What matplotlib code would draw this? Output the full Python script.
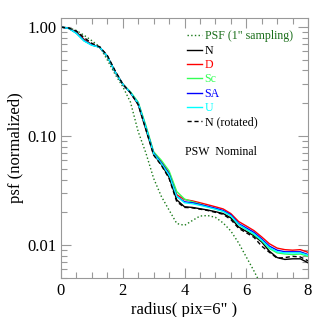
import numpy as np
import matplotlib
matplotlib.use("Agg")
import matplotlib.pyplot as plt
from matplotlib.ticker import FixedLocator, NullFormatter, LogLocator

plt.rcParams["font.family"] = ["Liberation Serif", "DejaVu Serif"]

# radius grid (pix = 6")
radius = np.arange(0, 8.01, 0.25)

psf_n = [1.0, 0.975, 0.90, 0.77, 0.69, 0.655, 0.54, 0.39, 0.30, 0.25, 0.195, 0.115, 0.068,
         0.055, 0.042, 0.026, 0.0225, 0.0222, 0.0216, 0.0210, 0.0203, 0.0195, 0.0178, 0.0147,
         0.0134, 0.0122, 0.0107, 0.0088, 0.0077, 0.0074, 0.0075, 0.0075, 0.0069]
psf_d = [1.0, 0.975, 0.89, 0.76, 0.69, 0.655, 0.54, 0.39, 0.30, 0.25, 0.20, 0.12, 0.070,
         0.058, 0.046, 0.029, 0.0262, 0.0255, 0.0245, 0.0235, 0.0225, 0.0215, 0.0195, 0.0165,
         0.0150, 0.0136, 0.0119, 0.0103, 0.0094, 0.0091, 0.0090, 0.0091, 0.0086]
psf_sc = [1.0, 0.975, 0.88, 0.75, 0.685, 0.655, 0.54, 0.39, 0.30, 0.255, 0.205, 0.125, 0.072,
          0.060, 0.048, 0.031, 0.0265, 0.0250, 0.0238, 0.0226, 0.0215, 0.0205, 0.0185, 0.0155,
          0.0139, 0.0125, 0.0110, 0.0093, 0.0085, 0.0083, 0.0082, 0.0083, 0.0079]
psf_sa = [1.0, 0.975, 0.88, 0.75, 0.685, 0.655, 0.54, 0.39, 0.30, 0.25, 0.20, 0.12, 0.070,
          0.057, 0.045, 0.028, 0.0250, 0.0245, 0.0236, 0.0227, 0.0218, 0.0208, 0.0190, 0.0158,
          0.0144, 0.0131, 0.0114, 0.0098, 0.0090, 0.0087, 0.0087, 0.0087, 0.0082]
psf_u = [1.0, 0.975, 0.875, 0.745, 0.68, 0.655, 0.54, 0.39, 0.30, 0.25, 0.20, 0.12, 0.069,
         0.056, 0.044, 0.028, 0.0245, 0.0240, 0.0232, 0.0223, 0.0214, 0.0204, 0.0186, 0.0155,
         0.0140, 0.0127, 0.0111, 0.0095, 0.0087, 0.0085, 0.0085, 0.0085, 0.0081]
psf_nrot = [1.0, 0.98, 0.92, 0.80, 0.71, 0.66, 0.55, 0.40, 0.30, 0.25, 0.195, 0.115, 0.067,
            0.054, 0.041, 0.025, 0.0222, 0.0220, 0.0214, 0.0208, 0.0200, 0.0192, 0.0172, 0.0143,
            0.0130, 0.0118, 0.0098, 0.0086, 0.0076, 0.0077, 0.0079, 0.0078, 0.0072]
# model PSF, 1" sampling
psf_model = [1.0, 0.985, 0.93, 0.84, 0.75, 0.66, 0.50, 0.37, 0.285, 0.205, 0.11, 0.07, 0.041,
             0.028, 0.021, 0.0158, 0.0152, 0.0168, 0.0185, 0.0187, 0.0180, 0.0160, 0.0135, 0.0105,
             0.0078, 0.0058, 0.0042, 0.0030, 0.0022, 0.0016, 0.0012, 0.0009, 0.0007]

fig = plt.figure(figsize=(3.27, 3.17), dpi=100)
ax = fig.add_axes([0.1865, 0.123, 0.7555, 0.82])

ax.semilogy(radius, psf_model, ":", color="#1a7a1a", lw=1.0, label="PSF (1\" sampling)")
ax.semilogy(radius, psf_n, "-", color="black", lw=1.0, label="N")
ax.semilogy(radius, psf_d, "-", color="red", lw=1.0, label="D")
ax.semilogy(radius, psf_sc, "-", color="#33ff55", lw=1.0, label="Sc")
ax.semilogy(radius, psf_sa, "-", color="blue", lw=1.0, label="SA")
ax.semilogy(radius, psf_u, "-", color="cyan", lw=1.0, label="U")
ax.semilogy(radius, psf_nrot, "--", color="black", lw=1.0, dashes=(3, 2), label="N (rotated)")

ax.set_xlim(0, 8)
ax.set_ylim(0.005, 1.21)
ax.set_xticks([0, 2, 4, 6, 8])
ax.xaxis.set_minor_locator(FixedLocator(np.arange(0, 8.01, 0.5)))
ax.set_yticks([0.01, 0.1, 1.0])
ax.set_yticklabels(["0.01", "0.10", "1.00"])
ax.yaxis.set_minor_locator(LogLocator(base=10, subs=np.arange(2, 10)))
ax.yaxis.set_minor_formatter(NullFormatter())
ax.tick_params(which="both", direction="in", top=True, right=True, color="#999999",
               labelsize=12)
ax.tick_params(which="major", length=7, width=0.8)
ax.tick_params(which="minor", length=4, width=0.8)
for s in ax.spines.values():
    s.set_color("#999999")

ax.set_xlabel("radius( pix=6\" )", fontsize=12, labelpad=2)
ax.set_ylabel("psf (normalized)", fontsize=12, labelpad=2)

leg = ax.legend(loc="upper left", bbox_to_anchor=(0.475, 0.985), frameon=False, fontsize=8.6,
                handlelength=1.3, handletextpad=0.2, labelspacing=0.2, borderpad=0.2,
                labelcolor=["#1a6e1a", "black", "red", "#33ff55", "blue", "cyan", "black"])
ax.text(0.5, 0.475, "PSW  Nominal", transform=ax.transAxes, fontsize=8.6)

fig.savefig("out.png", dpi=100)
